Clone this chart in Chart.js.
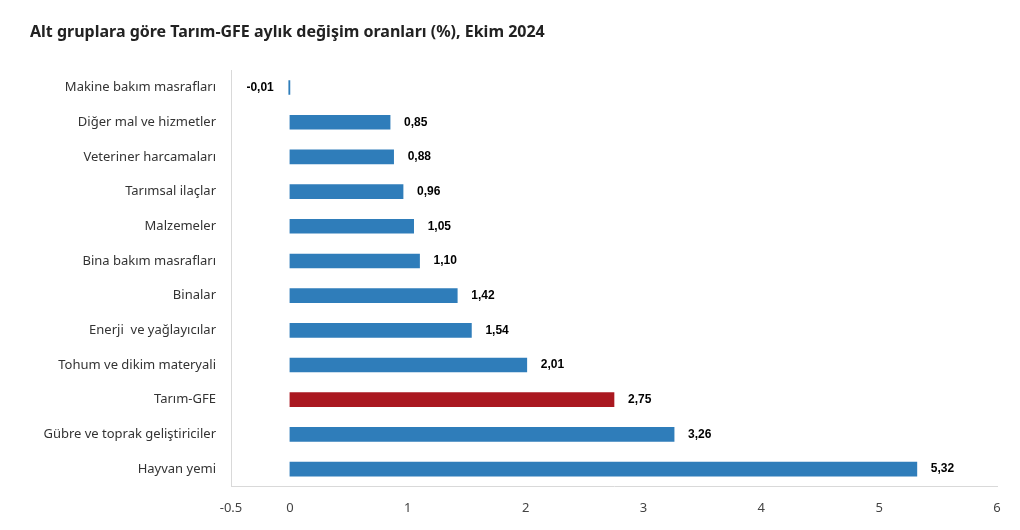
<!DOCTYPE html>
<html>
<head>
<meta charset="utf-8">
<script src="https://cdn.jsdelivr.net/npm/chart.js@4"></script>
<style>
  html, body { margin: 0; padding: 0; background: #fff; }
  #wrap { width: 1020px; height: 530px; }
</style>
</head>
<body>
<div id="wrap"><canvas id="chart"></canvas></div>
<script>
const categories = [
  'Makine bakım masrafları',
  'Diğer mal ve hizmetler',
  'Veteriner harcamaları',
  'Tarımsal ilaçlar',
  'Malzemeler',
  'Bina bakım masrafları',
  'Binalar',
  'Enerji  ve yağlayıcılar',
  'Tohum ve dikim materyali',
  'Tarım-GFE',
  'Gübre ve toprak geliştiriciler',
  'Hayvan yemi'
]
const changes = [-0.01, 0.85, 0.88, 0.96, 1.05, 1.10, 1.42, 1.54, 2.01, 2.75, 3.26, 5.32]
const xTicks = [-0.5, 0, 1, 2, 3, 4, 5, 6]

const blue = '#2f7dba'
const red = '#aa1820'

// value labels next to each bar, decimal comma like the source
const valueLabels = {
  id: 'valueLabels',
  afterDatasetsDraw (chart) {
    const ctx = chart.ctx
    const meta = chart.getDatasetMeta(0)
    ctx.save()
    ctx.font = 'bold 12px "Liberation Sans", Arial, sans-serif'
    ctx.fillStyle = '#000'
    ctx.textBaseline = 'middle'
    meta.data.forEach((bar, i) => {
      const v = changes[i]
      const txt = v.toFixed(2).replace('.', ',')
      if (v < 0) {
        ctx.textAlign = 'right'
        ctx.fillText(txt, bar.x - 15, bar.y)
      } else {
        ctx.textAlign = 'left'
        ctx.fillText(txt, bar.x + 14, bar.y)
      }
    })
    ctx.restore()
  }
}

new Chart(document.getElementById('chart'), {
  type: 'bar',
  data: {
    labels: categories,
    datasets: [{
      data: changes,
      backgroundColor: categories.map(c => c === 'Tarım-GFE' ? red : blue),
      borderWidth: 0,
      barThickness: 14
    }]
  },
  options: {
    indexAxis: 'y',
    responsive: true,
    maintainAspectRatio: false,
    animation: false,
    layout: {
      padding: { left: 30, right: 23, bottom: 8, top: 0 }
    },
    plugins: {
      legend: { display: false },
      tooltip: { enabled: false },
      title: {
        display: true,
        text: 'Alt gruplara göre Tarım-GFE aylık değişim oranları (%), Ekim 2024',
        align: 'start',
        color: '#222',
        font: { family: '"Noto Sans", "Open Sans", sans-serif', size: 16, weight: 'bold' },
        padding: { top: 23, bottom: 28 }
      }
    },
    scales: {
      x: {
        type: 'linear',
        min: -0.5,
        max: 6,
        afterBuildTicks: (axis) => { axis.ticks = xTicks.map(v => ({ value: v })) },
        grid: { display: false },
        border: { display: true, color: '#d9d9d9' },
        ticks: {
          color: '#444',
          padding: 6,
          font: { family: '"Noto Sans", sans-serif', size: 13 },
          callback: (v) => String(v)
        }
      },
      y: {
        grid: { display: false },
        border: { display: true, color: '#d9d9d9' },
        afterFit: (axis) => { axis.width = 201 },
        ticks: {
          color: '#333',
          padding: 7,
          font: { family: '"Noto Sans", sans-serif', size: 13 }
        }
      }
    }
  },
  plugins: [valueLabels]
})
</script>
</body>
</html>
